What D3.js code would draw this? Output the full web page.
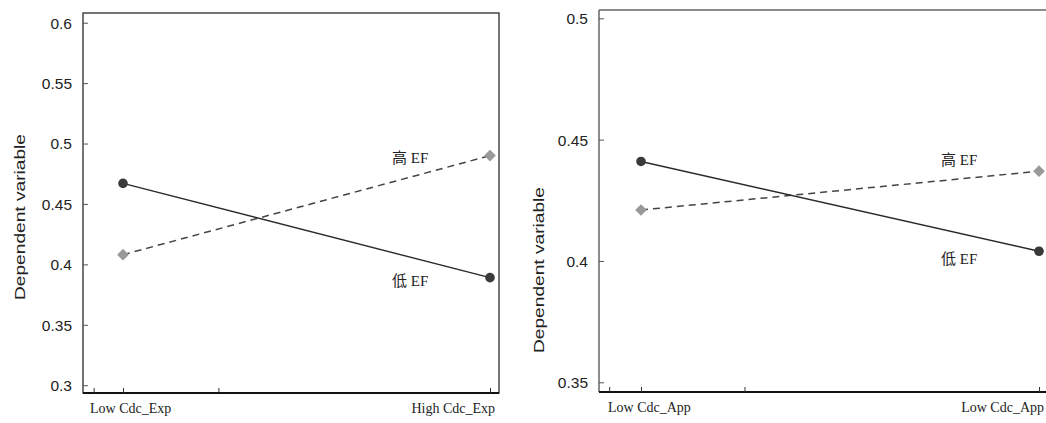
<!DOCTYPE html>
<html>
<head>
<meta charset="utf-8">
<script src="https://cdn.jsdelivr.net/npm/d3@7"></script>
<style>
  body { margin: 0; background: #fff; }
  svg { display: block; }
</style>
</head>
<body>
<div id="chart"></div>
<script>
// data
var leftCategories = ["Low Cdc_Exp", "High Cdc_Exp"];
var leftLowEF = [0.467, 0.389];
var leftHighEF = [0.408, 0.490];
var leftYTicks = [0.3, 0.35, 0.4, 0.45, 0.5, 0.55, 0.6];

var rightCategories = ["Low Cdc_App", "Low Cdc_App"];
var rightLowEF = [0.441, 0.404];
var rightHighEF = [0.421, 0.437];
var rightYTicks = [0.35, 0.4, 0.45, 0.5];

var seriesNames = ["低 EF", "高 EF"];
var xTickSpots = [-0.08, 0, 0.26, 1];

var w = 1046;
var h = 423;

var svg = d3.select("#chart")
    .append("svg")
    .attr("width", w)
    .attr("height", h);

function drawPanel(p) {
    var g = svg.append("g");

    var xScale = d3.scaleLinear().domain([0, 1]).range([p.x0, p.x1]);
    var yScale = d3.scaleLinear().domain(p.yDomain).range(p.yRange);

    // frame
    if (p.fullBox) {
        g.append("rect")
            .attr("x", p.left).attr("y", p.top)
            .attr("width", p.right - p.left).attr("height", p.bottom - p.top)
            .attr("fill", "none").attr("stroke", "#2a2a2a").attr("stroke-width", 1.3);
    } else {
        g.append("line")
            .attr("x1", p.left).attr("x2", p.right).attr("y1", p.top).attr("y2", p.top)
            .attr("stroke", "#666").attr("stroke-width", 1.3);
        g.append("line")
            .attr("x1", p.left).attr("x2", p.left).attr("y1", p.top).attr("y2", p.bottom)
            .attr("stroke", "#666").attr("stroke-width", 1.5);
    }
    g.append("line")
        .attr("x1", p.left).attr("x2", p.right).attr("y1", p.bottom).attr("y2", p.bottom)
        .attr("stroke", "#111").attr("stroke-width", 2);

    // y axis, ticks inward
    var yAxis = g.append("g")
        .attr("transform", "translate(" + p.left + ",0)")
        .call(d3.axisRight(yScale).tickValues(p.yTicks).tickSize(5).tickFormat(d3.format("")));
    yAxis.select(".domain").remove();
    yAxis.selectAll(".tick line").attr("stroke", "#555");
    yAxis.selectAll(".tick text")
        .attr("x", -11)
        .attr("text-anchor", "end")
        .attr("dy", "0.35em")
        .style("font-family", "'Liberation Sans', Arial, sans-serif")
        .style("font-size", "15.5px")
        .attr("fill", "#222");

    // x axis, small ticks pointing up
    var xAxis = g.append("g")
        .attr("transform", "translate(0," + p.bottom + ")")
        .call(d3.axisTop(xScale).tickValues(xTickSpots).tickSize(5).tickFormat(""));
    xAxis.select(".domain").remove();
    xAxis.selectAll(".tick line").attr("stroke", "#333");

    // category labels
    g.append("text")
        .text(p.categories[0])
        .attr("x", xScale(0) - 33)
        .attr("y", p.bottom + 20)
        .attr("text-anchor", "start")
        .style("font-family", "'Liberation Serif', 'Times New Roman', serif")
        .style("font-size", "14px")
        .attr("fill", "#222");
    g.append("text")
        .text(p.categories[1])
        .attr("x", xScale(1) + 5)
        .attr("y", p.bottom + 20)
        .attr("text-anchor", "end")
        .style("font-family", "'Liberation Serif', 'Times New Roman', serif")
        .style("font-size", "14px")
        .attr("fill", "#222");

    // y title
    g.append("text")
        .text("Dependent variable")
        .attr("transform", "translate(" + p.titleX + "," + p.titleY + ") rotate(-90)")
        .attr("text-anchor", "middle")
        .attr("textLength", 166)
        .attr("lengthAdjust", "spacingAndGlyphs")
        .style("font-family", "'Liberation Sans', Arial, sans-serif")
        .style("font-size", "14.5px")
        .attr("fill", "#222");

    var line = d3.line()
        .x(function(d, i) { return xScale(i); })
        .y(function(d) { return yScale(d); });

    // high EF, dashed
    g.append("path")
        .datum(p.high)
        .attr("d", line)
        .attr("fill", "none")
        .attr("stroke", "#444")
        .attr("stroke-width", 1.5)
        .attr("stroke-dasharray", "7,5");

    // low EF, solid
    g.append("path")
        .datum(p.low)
        .attr("d", line)
        .attr("fill", "none")
        .attr("stroke", "#2a2a2a")
        .attr("stroke-width", 1.4);

    g.selectAll(".diamond")
        .data(p.high)
        .enter()
        .append("path")
        .attr("class", "diamond")
        .attr("d", d3.symbol().type(d3.symbolSquare).size(68))
        .attr("transform", function(d, i) {
            return "translate(" + xScale(i) + "," + yScale(d) + ") rotate(45)";
        })
        .attr("fill", "#999");

    g.selectAll(".dot")
        .data(p.low)
        .enter()
        .append("circle")
        .attr("class", "dot")
        .attr("cx", function(d, i) { return xScale(i); })
        .attr("cy", function(d) { return yScale(d); })
        .attr("r", 4.8)
        .attr("fill", "#3a3a3a");

    // series labels near the right end
    var labelX = xScale(1) - 98;
    g.append("text")
        .text(seriesNames[1])
        .attr("x", labelX)
        .attr("y", yScale(p.high[1]) + p.highOffset)
        .style("font-family", "'Liberation Serif', 'Noto Sans CJK SC', serif")
        .style("font-size", "15px")
        .attr("fill", "#222");
    g.append("text")
        .text(seriesNames[0])
        .attr("x", labelX)
        .attr("y", yScale(p.low[1]) + p.lowOffset)
        .style("font-family", "'Liberation Serif', 'Noto Sans CJK SC', serif")
        .style("font-size", "15px")
        .attr("fill", "#222");
}

drawPanel({
    categories: leftCategories,
    low: leftLowEF,
    high: leftHighEF,
    yTicks: leftYTicks,
    yDomain: [0.3, 0.6],
    yRange: [385.2, 22.7],
    x0: 123, x1: 490,
    left: 83, right: 499, top: 13, bottom: 393,
    fullBox: true,
    titleX: 25, titleY: 217,
    highOffset: 7, lowOffset: 8
});

drawPanel({
    categories: rightCategories,
    low: rightLowEF,
    high: rightHighEF,
    yTicks: rightYTicks,
    yDomain: [0.35, 0.5],
    yRange: [382.3, 18.3],
    x0: 641, x1: 1039,
    left: 599, right: 1048, top: 10, bottom: 392,
    fullBox: false,
    titleX: 544, titleY: 270,
    highOffset: -6, lowOffset: 13
});
</script>
</body>
</html>
